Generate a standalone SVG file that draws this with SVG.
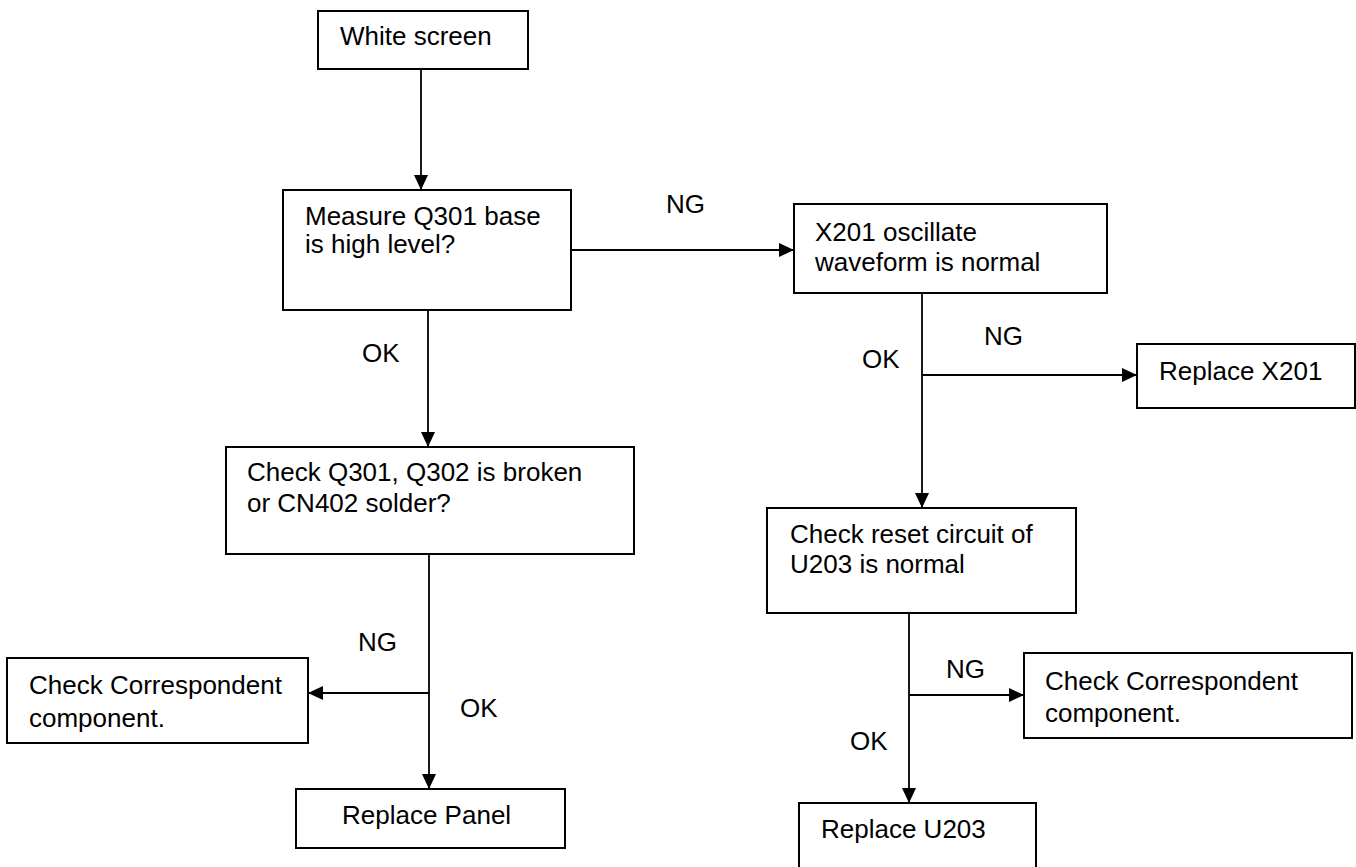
<svg xmlns="http://www.w3.org/2000/svg" width="1356" height="867" viewBox="0 0 1356 867">
<defs>
<style>
.box{fill:#fff;stroke:#000;stroke-width:2}
.t{font-family:"Liberation Sans",Arial,sans-serif;font-size:26px;fill:#000}
.c{fill:none;stroke:#000;stroke-width:1.8}
</style>
<marker id="ah" viewBox="0 0 15 14" refX="15" refY="7" markerWidth="15" markerHeight="14" markerUnits="userSpaceOnUse" orient="auto">
<path d="M0,0 L15,7 L0,14 z" fill="#000"/>
</marker>
</defs>
<rect width="1356" height="867" fill="#fff"/>
<g id="connectors">
<line class="c" x1="421" y1="69" x2="421" y2="190" marker-end="url(#ah)"/>
<line class="c" x1="571" y1="250" x2="794" y2="250" marker-end="url(#ah)"/>
<line class="c" x1="428" y1="310" x2="428" y2="447" marker-end="url(#ah)"/>
<line class="c" x1="922" y1="293" x2="922" y2="508" marker-end="url(#ah)"/>
<line class="c" x1="922" y1="375" x2="1137" y2="375" marker-end="url(#ah)"/>
<line class="c" x1="429" y1="554" x2="429" y2="789" marker-end="url(#ah)"/>
<line class="c" x1="429" y1="693" x2="308" y2="693" marker-end="url(#ah)"/>
<line class="c" x1="909" y1="613" x2="909" y2="803" marker-end="url(#ah)"/>
<line class="c" x1="909" y1="695" x2="1024" y2="695" marker-end="url(#ah)"/>
<text class="t" x="666" y="213">NG</text>
<text class="t" x="362" y="362">OK</text>
<text class="t" x="984" y="345">NG</text>
<text class="t" x="862" y="368">OK</text>
<text class="t" x="358" y="651">NG</text>
<text class="t" x="460" y="717">OK</text>
<text class="t" x="946" y="678">NG</text>
<text class="t" x="850" y="750">OK</text>
</g>
<g id="white-screen">
<rect class="box" x="318" y="11" width="210" height="58"/>
<text class="t" x="340" y="45">White screen</text>
</g>
<g id="measure-q301">
<rect class="box" x="283" y="190" width="288" height="120"/>
<text class="t" x="305" y="225">Measure Q301 base</text>
<text class="t" x="305" y="253">is high level?</text>
</g>
<g id="x201-oscillate">
<rect class="box" x="794" y="204" width="313" height="89"/>
<text class="t" x="815" y="241">X201 oscillate</text>
<text class="t" x="815" y="271">waveform is normal</text>
</g>
<g id="replace-x201">
<rect class="box" x="1137" y="344" width="218" height="64"/>
<text class="t" x="1159" y="380">Replace X201</text>
</g>
<g id="check-q301">
<rect class="box" x="226" y="447" width="408" height="107"/>
<text class="t" x="247" y="481">Check Q301, Q302 is broken</text>
<text class="t" x="247" y="512">or CN402 solder?</text>
</g>
<g id="check-reset">
<rect class="box" x="767" y="508" width="309" height="105"/>
<text class="t" x="790" y="543">Check reset circuit of</text>
<text class="t" x="790" y="573">U203 is normal</text>
</g>
<g id="check-comp-left">
<rect class="box" x="7" y="658" width="301" height="85"/>
<text class="t" x="29" y="694">Check Correspondent</text>
<text class="t" x="29" y="727">component.</text>
</g>
<g id="check-comp-right">
<rect class="box" x="1024" y="653" width="328" height="85"/>
<text class="t" x="1045" y="690">Check Correspondent</text>
<text class="t" x="1045" y="722">component.</text>
</g>
<g id="replace-panel">
<rect class="box" x="296" y="789" width="269" height="59"/>
<text class="t" x="342" y="824">Replace Panel</text>
</g>
<g id="replace-u203">
<rect class="box" x="799" y="803" width="237" height="80"/>
<text class="t" x="821" y="838">Replace U203</text>
</g>
</svg>
